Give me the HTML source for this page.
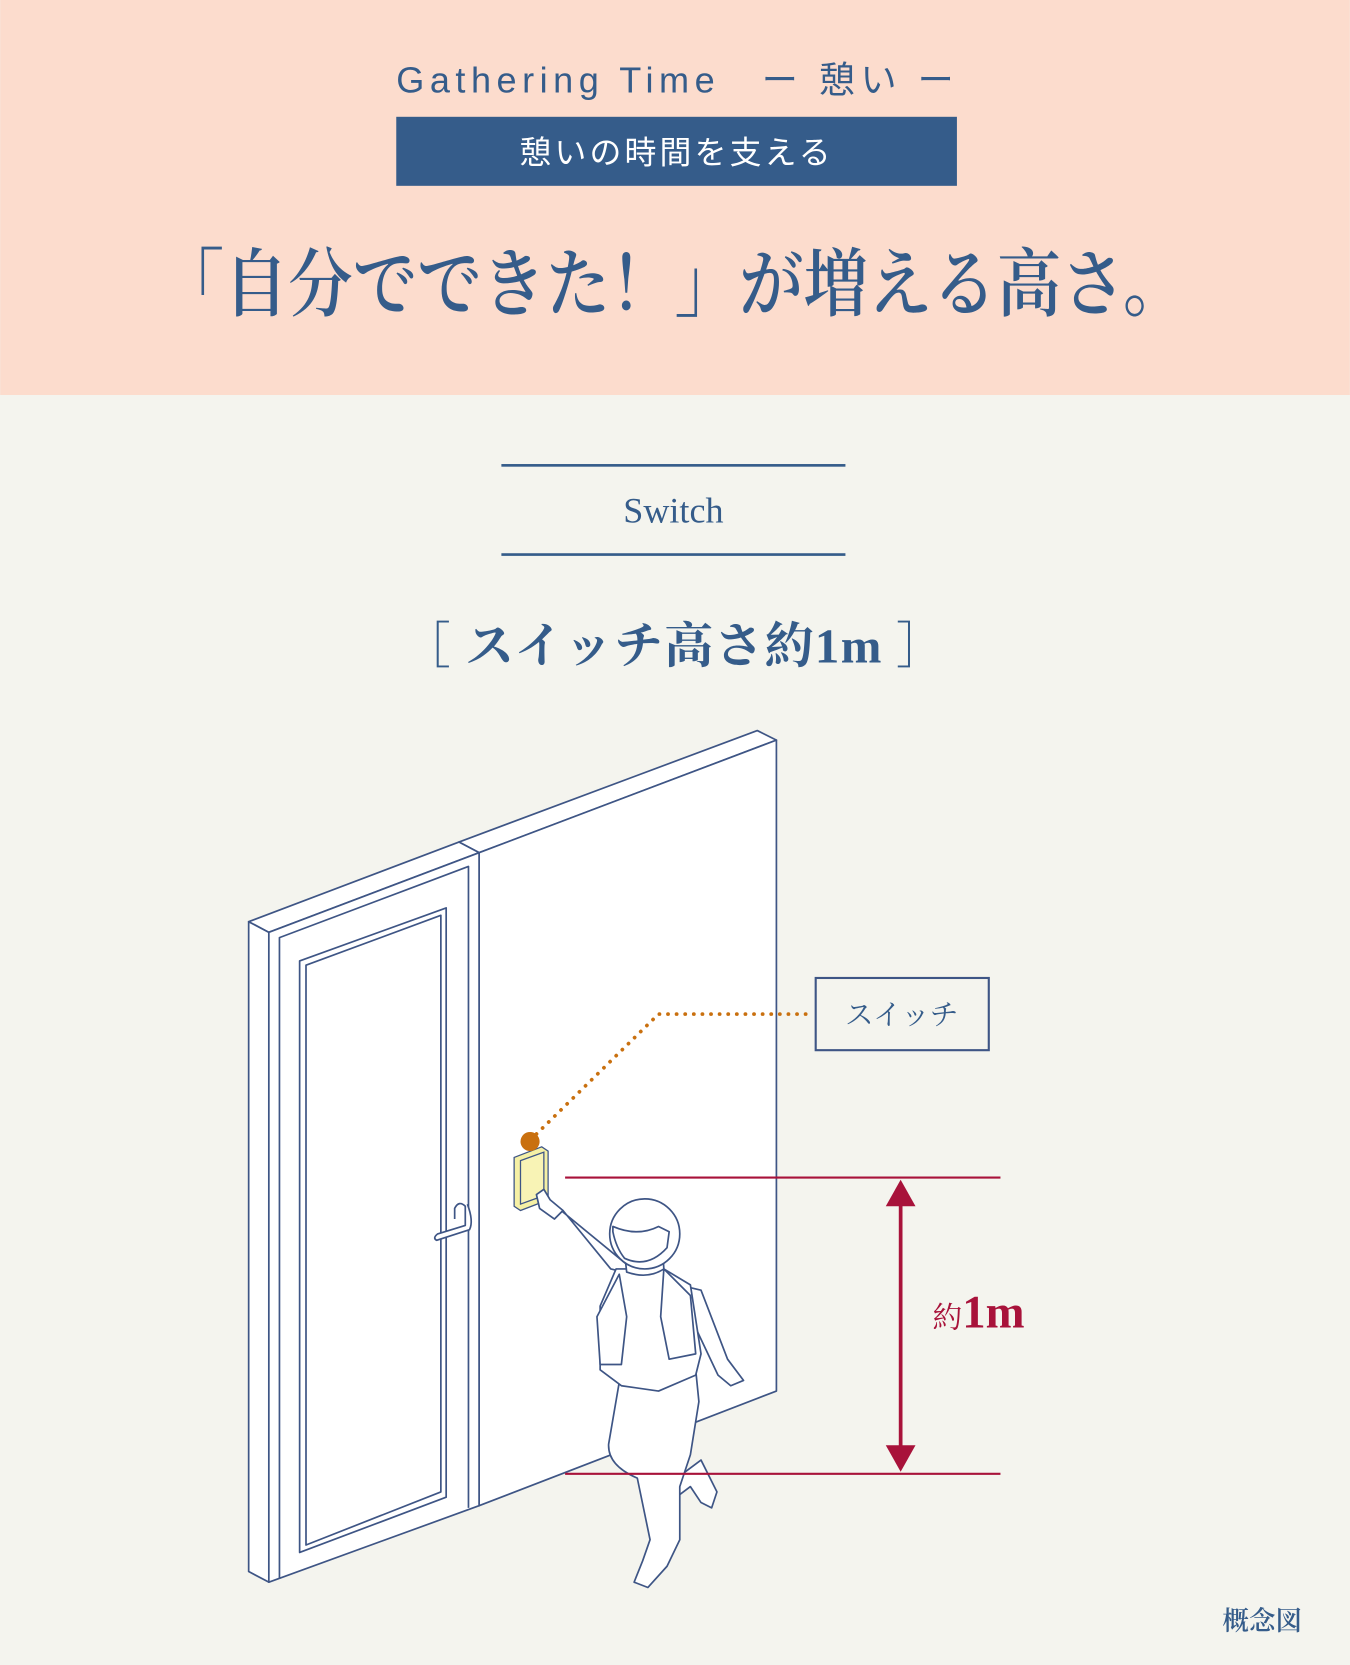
<!DOCTYPE html>
<html><head><meta charset="utf-8"><style>
html,body{margin:0;padding:0;background:#F4F4EE;}
svg{display:block}
</style></head><body>
<svg width="1350" height="1665" viewBox="0 0 1271 1568" xmlns="http://www.w3.org/2000/svg">
<rect x="0" y="0" width="1271" height="1568" fill="#F4F4EE"/>
<rect x="0" y="0" width="1271" height="372" fill="#FCDCCD"/>
<g fill="#355C8A">
<text x="373" y="87" textLength="525" lengthAdjust="spacing" font-family="Liberation Sans, Noto Sans CJK JP, sans-serif" font-size="34">Gathering Time　ー 憩い ー</text>
<rect x="373" y="110" width="528" height="65"/>
<text x="637" y="154" text-anchor="middle" fill="#fff" font-family="Liberation Sans, Noto Sans CJK JP, sans-serif" font-size="30" letter-spacing="3">憩いの時間を支える</text>
<text x="150" y="292" textLength="968" lengthAdjust="spacingAndGlyphs" font-family="Liberation Serif, Noto Serif CJK SC, serif" font-size="70" font-weight="600">「自分でできた！」が増える高さ。</text>
<rect x="472" y="437" width="324" height="2.5"/>
<rect x="472" y="521" width="324" height="2.5"/>
<text x="634" y="492" text-anchor="middle" font-family="Liberation Serif, serif" font-size="34">Switch</text>
<text x="378" y="624" textLength="512" lengthAdjust="spacing" font-family="Liberation Serif, Noto Serif CJK SC, serif" font-size="46" font-weight="700">［ スイッチ高さ約1m ］</text>
<text x="1226" y="1535" text-anchor="end" font-family="Liberation Serif, Noto Serif CJK SC, serif" font-size="25" font-weight="600">概念図</text>
</g>
<g stroke="#3E5585" stroke-width="1.6" fill="#fff" stroke-linejoin="round">
<polygon points="432,793 713,688 731,697 451,803"/>
<polygon points="451,803 731,697 731,1310 451,1418"/>
<polygon points="234,868 432,793 451,803 253,878"/>
<polygon points="234,868 253,878 253,1490 234,1480"/>
<polygon points="253,878 451,803 451,1418 253,1490"/>
<polyline fill="none" points="263,1487 263,883 441,816 441,1420"/>
<polygon points="282,905 420,855 420,1410 282,1462"/>
<polygon fill="none" points="288,909 415,862 415,1405 288,1455"/>
<path d="M428,1148 L428,1138 Q432,1130 438,1136 L438,1154 L412,1162 Q407,1166 411,1168 L442,1158 Q446,1150 440,1134" fill="#fff"/>
</g>
<g stroke="#3E5585" stroke-width="1.2">
<polygon points="484,1090 510,1080 516,1084 516,1130 490,1140 484,1136" fill="#F5F0A5"/>
<polygon points="490,1093 512,1085 512,1126 490,1134" fill="#F8F3B5"/>
</g>
<circle cx="499" cy="1075" r="9" fill="#C9700F"/>
<polyline points="505,1068 620,955 765,955" fill="none" stroke="#C9700F" stroke-width="3.5" stroke-dasharray="0.1 8" stroke-linecap="round"/>
<rect x="768" y="921" width="163" height="68" fill="none" stroke="#3E5585" stroke-width="2"/>
<text x="849" y="965" text-anchor="middle" fill="#355C8A" font-family="Liberation Serif, Noto Serif CJK SC, serif" font-size="27">スイッチ</text>
<g stroke="#3E5585" stroke-width="1.6" fill="#fff" stroke-linejoin="round">
<path d="M610,1395 L640,1390 L660,1375 L675,1405 L670,1420 L660,1415 L650,1400 L630,1415 Z"/>
<path d="M585,1290 L573,1360 Q572,1380 600,1392 L612,1450 L605,1470 L597,1490 L610,1495 L628,1475 L640,1450 L640,1400 L650,1370 L658,1320 L655,1290 Z"/>
<path d="M510,1125 L518,1132 L530,1140 L575,1195 L660,1215 L685,1280 L700,1300 L688,1305 L676,1295 L650,1240 Z"/>
<path d="M580,1195 L565,1230 L565,1290 L585,1305 L620,1310 L655,1295 L660,1275 L650,1210 L625,1195 Z"/>
<path d="M583,1200 L590,1240 L585,1285 L565,1285 L562,1240 Z"/>
<path d="M625,1195 L622,1240 L630,1280 L655,1275 L650,1220 Z"/>
<path d="M588,1180 L590,1198 Q610,1205 625,1195 L624,1180 Z"/>
<circle cx="607" cy="1162" r="33"/>
<path d="M577,1155 Q600,1165 620,1155 L630,1160 L628,1175 Q610,1195 588,1185 Q580,1175 577,1160 Z"/>
<path d="M505,1125 L512,1120 L518,1130 L530,1140 L522,1148 L508,1138 Z"/>
</g>
<g stroke="#A8123A" stroke-width="2" fill="#A8123A">
<line x1="532" y1="1109" x2="942" y2="1109"/>
<line x1="532" y1="1388" x2="942" y2="1388"/>
<line x1="848" y1="1125" x2="848" y2="1372" stroke-width="3.5"/>
<polygon points="848,1111 834,1136 862,1136" stroke="none"/>
<polygon points="848,1386 834,1361 862,1361" stroke="none"/>
</g>
<text x="878" y="1250" fill="#A8123A" font-family="Liberation Serif, Noto Serif CJK SC, serif" font-size="28">約<tspan font-size="44" font-weight="600">1m</tspan></text>
</svg>
</body></html>
